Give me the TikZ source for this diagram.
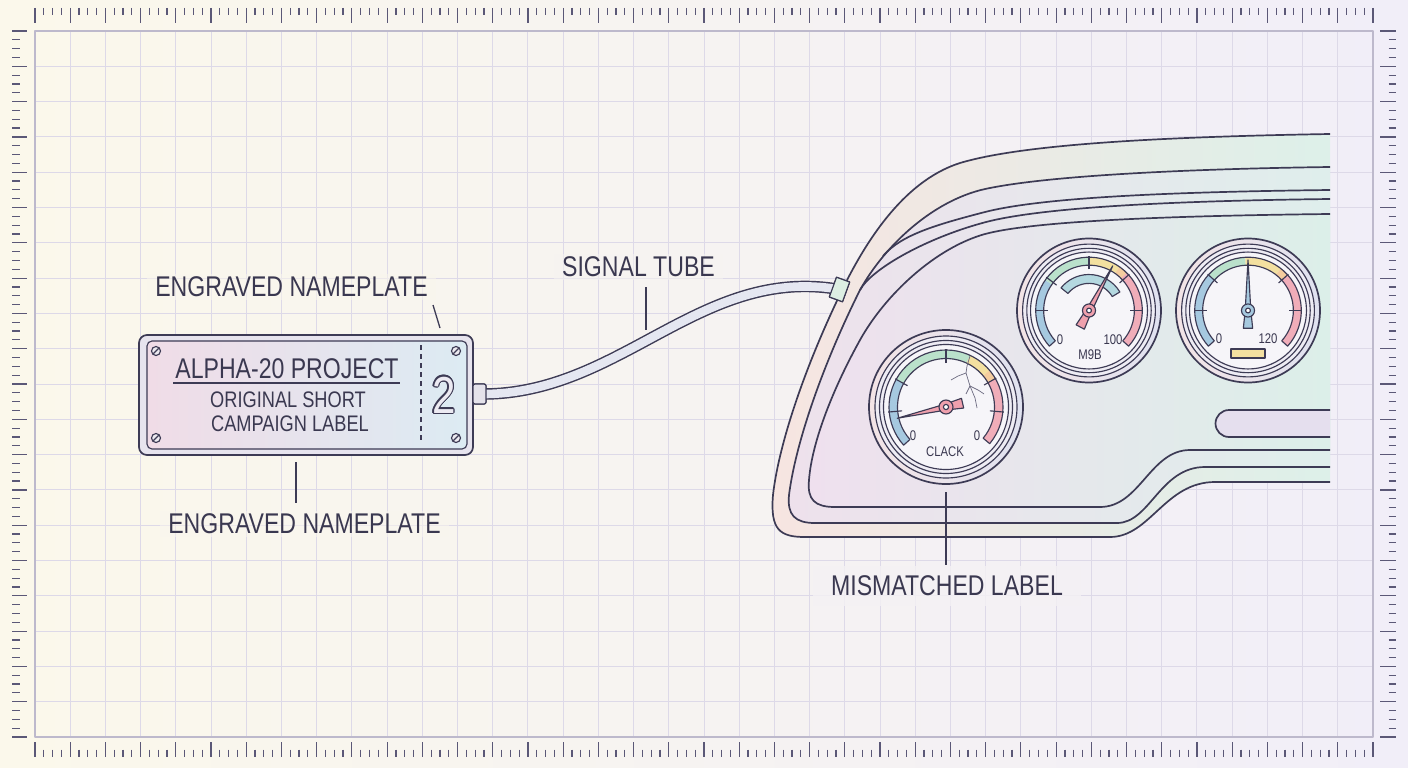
\documentclass[tikz,border=0pt]{standalone}
\usepackage{fontspec}
\newfontfamily\condf{Liberation Sans}[FakeStretch=0.81]
\usetikzlibrary{calc}
\definecolor{dk}{HTML}{3D3B55}
\definecolor{txt}{HTML}{3A3850}
\definecolor{rul}{HTML}{5B5877}
\definecolor{gridc}{HTML}{DDD9E8}
\definecolor{framec}{HTML}{BDB9CC}
\definecolor{bgL}{HTML}{FBF8EB}
\definecolor{bgR}{HTML}{F1EEF8}
\definecolor{gblue}{HTML}{A6C9E0}
\definecolor{ggreen}{HTML}{BAE1CB}
\definecolor{gyellow}{HTML}{F3E0A0}
\definecolor{gorange}{HTML}{F4CC9E}
\definecolor{gred}{HTML}{F0ADB9}
\definecolor{npink}{HTML}{EFA0AD}
\definecolor{nblue}{HTML}{A6C9DF}
\definecolor{face}{HTML}{F6F5F9}
\definecolor{crackc}{HTML}{6C6A80}
\definecolor{plate}{HTML}{E7E4EE}
\definecolor{screwc}{HTML}{ECEAF0}
\definecolor{plugc}{HTML}{E4E2EA}
\definecolor{plugm}{HTML}{DDEFE3}
\definecolor{tubec}{HTML}{E5E7F1}
\definecolor{slotc}{HTML}{E5DFEE}
\definecolor{ringL}{HTML}{F3E4E6}
\definecolor{ringR}{HTML}{E0E2F0}
\definecolor{ringM}{HTML}{EEECF4}
\definecolor{indc}{HTML}{B4D8E0}
\definecolor{twoc}{HTML}{ECEAF2}

\def\pathA{(1330,134) .. controls (1150,137) and (1020,145) .. (960,163) .. controls (900,182) and (860,250) .. (835,305) .. controls (800,380) and (778,450) .. (773,495) .. controls (770,530) and (780,537) .. (805,537) -- (1110,537) .. controls (1150,537) and (1165,482) .. (1215,482) -- (1330,482)}
\def\pathB{(1330,167) .. controls (1180,169) and (1050,176) .. (990,188) .. controls (935,198) and (885,245) .. (860,290) .. controls (825,360) and (796,440) .. (789,495) .. controls (787,515) and (795,523) .. (815,523) -- (1117,523) .. controls (1150,523) and (1160,467) .. (1205,467) -- (1330,467)}
\def\pathCone{(1330,190) .. controls (1160,192) and (1040,198) .. (985,212) .. controls (935,225) and (901,235) .. (883,256)}
\def\pathCtwo{(1330,199) .. controls (1160,201) and (1045,208) .. (990,221) .. controls (930,236) and (872,268) .. (860,290)}
\def\pathD{(1330,214) .. controls (1150,216) and (1030,222) .. (985,234) .. controls (935,248) and (885,295) .. (860,340) .. controls (835,385) and (812,440) .. (809,480) .. controls (807,500) and (815,507) .. (835,507) -- (1100,507) .. controls (1140,507) and (1150,450) .. (1190,450) -- (1330,450)}

\newcommand\gaugebase{%
  \shade[left color=ringL, right color=ringR] (0,0) circle[radius=77];
  \draw[dkline] (0,0) circle[radius=77];
  \fill[ringM] (0,0) circle[radius=71];
  \draw[thinline] (0,0) circle[radius=71];
  \draw[thinline] (0,0) circle[radius=66.5];
  \fill[face] (0,0) circle[radius=62.5];
  \draw[thinline] (0,0) circle[radius=62.5];
}
\newcommand\bandseg[3]{\fill[#3] (#1:48.5) arc[start angle=#1, end angle=#2, radius=48.5] -- (#2:57) arc[start angle=#2, end angle=#1, radius=57] -- cycle;}
\newcommand\bandoutline[2]{\draw[thinline] (#1:48.5) arc[start angle=#1, end angle=#2, radius=48.5] -- (#2:57) arc[start angle=#2, end angle=#1, radius=57] -- cycle;}
\newcommand\gtick[1]{\draw[thinline] (#1:44) -- (#1:58);}
\newcommand\gneedle[4]{%
  \draw[thinline, fill=#4] (#1:#2) -- ({#1+90}:3) -- ($({#1+180}:#3)+({#1+90}:5)$) -- ($({#1+180}:#3)+({#1-90}:5)$) -- ({#1-90}:3) -- cycle;
  \draw[thinline, fill=#4] (0,0) circle[radius=7];
  \draw[thinline, fill=white] (0,0) circle[radius=2.6];
}

\begin{document}
\begin{tikzpicture}[x=1pt,y=-1pt, line join=round,
  dkline/.style={draw=dk, line width=1.7},
  thinline/.style={draw=dk, line width=1.15},
  gridline/.style={draw=gridc, line width=0.9},
  tickl/.style={draw=rul, line width=1.2},
  lbl/.style={font=\condf\fontsize{28.5}{30}\selectfont, text=txt, inner xsep=8, inner ysep=3, fill opacity=0.55, text opacity=1},
  gtext/.style={font=\condf\fontsize{14}{15}\selectfont, text=txt, inner sep=0},
  leader/.style={draw=dk, line width=1.3},
]
\useasboundingbox (0,0) rectangle (1408,768);
\shade[left color=bgL, right color=bgR] (0,0) rectangle (1408,768);

% grid and frame
\foreach \i in {1,...,37} \draw[gridline] ({35+\i*35.21},31) -- ({35+\i*35.21},737);
\foreach \j in {1,...,19} \draw[gridline] (35,{31+\j*35.3}) -- (1373,{31+\j*35.3});
\draw[draw=framec, line width=1.6] (35,31) rectangle (1373,737);

% rulers
\foreach \i in {0,...,38} {
  \draw[tickl] ({35+\i*35.21},8) -- ({35+\i*35.21},23);
  \draw[tickl] ({35+\i*35.21},742) -- ({35+\i*35.21},757);
}
\foreach \i in {0,...,37} \foreach \q in {1,2,3} {
  \draw[tickl] ({35+(\i+\q/4)*35.21},8) -- ({35+(\i+\q/4)*35.21},15.5);
  \draw[tickl] ({35+(\i+\q/4)*35.21},749.5) -- ({35+(\i+\q/4)*35.21},757);
}
\foreach \j in {0,...,20} {
  \draw[tickl] (12,{31+\j*35.3}) -- (27,{31+\j*35.3});
  \draw[tickl] (1380,{31+\j*35.3}) -- (1396,{31+\j*35.3});
}
\foreach \j in {0,...,19} \foreach \q in {1,2,3} {
  \draw[tickl] (12,{31+(\j+\q/4)*35.3}) -- (19.5,{31+(\j+\q/4)*35.3});
  \draw[tickl] (1388.5,{31+(\j+\q/4)*35.3}) -- (1396,{31+(\j+\q/4)*35.3});
}

% labels
\node[lbl, fill=bgL!82!bgR] (lblTop) at (291.5,287) {ENGRAVED NAMEPLATE};
\node[lbl, fill=bgL!80!bgR] (lblBot) at (304.5,524) {ENGRAVED NAMEPLATE};
\node[lbl, fill=bgL!55!bgR] (lblTube) at (638.5,267) {SIGNAL TUBE};
\node[lbl, fill=bgL!33!bgR, inner xsep=18, inner ysep=10, fill opacity=0.8] (lblMis) at (947,586) {MISMATCHED LABEL};

% nameplate
\draw[dkline, fill=plate, rounded corners=8] (139,335) rectangle (473,455);
\shade[left color={rgb,255:red,240;green,220;blue,231}, middle color={rgb,255:red,234;green,242;blue,230}, right color={rgb,255:red,220;green,235;blue,243}, rounded corners=5] (147,341) rectangle (467,449);
\draw[thinline, rounded corners=5] (147,341) rectangle (467,449);
\foreach \p in {(156,351),(456,351),(156,438),(456,438)} {
  \draw[thinline, fill=screwc] \p circle[radius=4.5];
  \draw[thinline] \p ++(-2.7,2.7) -- ++(5.4,-5.4);
}
\node[font=\condf\fontsize{28.5}{29}\selectfont, text=txt, inner sep=0] (np1) at (287,369) {ALPHA-20 PROJECT};
\draw[leader] (173,383) -- (400,383);
\node[font=\condf\fontsize{22.5}{23}\selectfont, text=txt, inner sep=0] (np2) at (288,400) {ORIGINAL SHORT};
\node[font=\condf\fontsize{22.5}{23}\selectfont, text=txt, inner sep=0] (np3) at (290,424) {CAMPAIGN LABEL};
\draw[thinline, dash pattern=on 5 off 4] (421,345) -- (421,443);
\coordinate (twoctr) at (444,395);
\foreach \a in {0,30,...,330} \node[font=\condf\fontsize{52}{52}\selectfont, text=dk, inner sep=0] (twoo\a) at ([shift={(\a:1.4)}]twoctr) {2};
\node[font=\condf\fontsize{52}{52}\selectfont, text=twoc, inner sep=0] (two) at (twoctr) {2};

% dashboard
\shade[left color={rgb,255:red,247;green,229;blue,225}, middle color={rgb,255:red,240;green,236;blue,240}, right color={rgb,255:red,221;green,240;blue,233}] \pathA -- cycle;
\shade[left color={rgb,255:red,238;green,225;blue,236}, middle color={rgb,255:red,233;green,231;blue,241}, right color={rgb,255:red,223;green,238;blue,236}] \pathB -- cycle;
\shade[left color={rgb,255:red,239;green,224;blue,238}, middle color={rgb,255:red,228;green,231;blue,243}, right color={rgb,255:red,220;green,239;blue,233}] \pathD -- cycle;
\draw[dkline] \pathA;
\draw[dkline] \pathB;
\draw[dkline] \pathCone;
\draw[dkline] \pathCtwo;
\draw[dkline] \pathD;
\draw[dkline, fill=slotc] (1330,410) -- (1229,410) arc[start angle=270, end angle=90, radius=13.5] -- (1330,437);

% gauge 1
\begin{scope}[shift={(946,407)}, yscale=-1]
  \gaugebase
  \bandseg{222}{151}{gblue}
  \bandseg{151}{65}{ggreen}
  \bandseg{65}{40}{gyellow}
  \bandseg{40}{30}{gorange}
  \bandseg{30}{-40}{gred}
  \bandoutline{222}{-40}
  \gtick{185}\gtick{151}\gtick{90}\gtick{30}\gtick{-5}
\end{scope}
\draw[crackc, line width=0.7] (970,356) -- (967,366) -- (966,373);
\draw[crackc, line width=0.7] (966,373) -- (958,376) -- (951,380);
\draw[crackc, line width=0.7] (966,373) -- (970,386) -- (966,394);
\draw[crackc, line width=0.7] (970,386) -- (978,390) -- (984,394);
\draw[crackc, line width=0.7] (970,386) -- (975,398) -- (977,408);
\begin{scope}[shift={(946,407)}, yscale=-1]
  \gneedle{193}{50}{17}{npink}
\end{scope}
\node[gtext] (g1a) at (913,436) {0};
\node[gtext] (g1b) at (977,436) {0};
\node[gtext] (g1c) at (945,452) {CLACK};

% gauge 2
\begin{scope}[shift={(1089,310.5)}, yscale=-1, scale=0.935]
  \gaugebase
  \bandseg{222}{145}{gblue}
  \bandseg{145}{90}{ggreen}
  \bandseg{90}{55}{gyellow}
  \bandseg{55}{45}{gorange}
  \bandseg{45}{-42}{gred}
  \bandoutline{222}{-42}
  \gtick{180}\gtick{142}\gtick{90}\gtick{42}\gtick{0}
  \draw[thinline, fill=indc] (141:29) arc[start angle=141, end angle=31, radius=29] -- (31:38.5) arc[start angle=31, end angle=141, radius=38.5] -- cycle;
  \gneedle{62}{54}{20}{npink}
\end{scope}
\node[gtext] (g2a) at (1060,340) {0};
\node[gtext] (g2b) at (1113,340) {100};
\node[gtext] (g2c) at (1090,355) {M9B};

% gauge 3
\begin{scope}[shift={(1248,310.5)}, yscale=-1, scale=0.935]
  \gaugebase
  \bandseg{222}{138}{gblue}
  \bandseg{138}{93}{ggreen}
  \bandseg{93}{52}{gyellow}
  \bandseg{52}{42}{gorange}
  \bandseg{42}{-42}{gred}
  \bandoutline{222}{-42}
  \gtick{180}\gtick{138}\gtick{42}\gtick{0}
  \gneedle{90}{54}{19}{nblue}
\end{scope}
\node[gtext] (g3a) at (1219,339) {0};
\node[gtext] (g3b) at (1268,339) {120};
\draw[thinline, fill=gyellow] (1231,349) rectangle (1265,358);

% tube and plugs
\node[draw=dk, line width=1.2, fill=plugc, rounded corners=2, minimum width=13, minimum height=20, inner sep=0] (plug1) at (479.5,394) {};
\node[draw=dk, line width=1.2, fill=plugm, minimum width=14, minimum height=21, inner sep=0, rotate=-20] (plug2) at (839.5,289.5) {};
\draw[draw=dk, line width=11.5] (plug1.center) .. controls (620,396) and (700,265) .. (plug2.center);
\draw[draw=tubec, line width=8.6] (plug1.center) .. controls (620,396) and (700,265) .. (plug2.center);
\node[draw=dk, line width=1.2, fill=plugc, rounded corners=2, minimum width=13, minimum height=20, inner sep=0] (plug1b) at (plug1) {};
\node[draw=dk, line width=1.2, fill=plugm, minimum width=14, minimum height=21, inner sep=0, rotate=-20] (plug2b) at (plug2) {};

% leaders
\coordinate (ld1a) at (433,305); \coordinate (ld1b) at (440,328);
\coordinate (ld2a) at (296,462); \coordinate (ld2b) at (296,503);
\coordinate (ld3a) at (646,287); \coordinate (ld3b) at (646,330);
\coordinate (ld4a) at (946,492); \coordinate (ld4b) at (946,565);
\draw[leader] (ld1a) -- (ld1b);
\draw[leader] (ld2a) -- (ld2b);
\draw[leader] (ld3a) -- (ld3b);
\draw[leader] (ld4a) -- (ld4b);
\end{tikzpicture}
\end{document}
